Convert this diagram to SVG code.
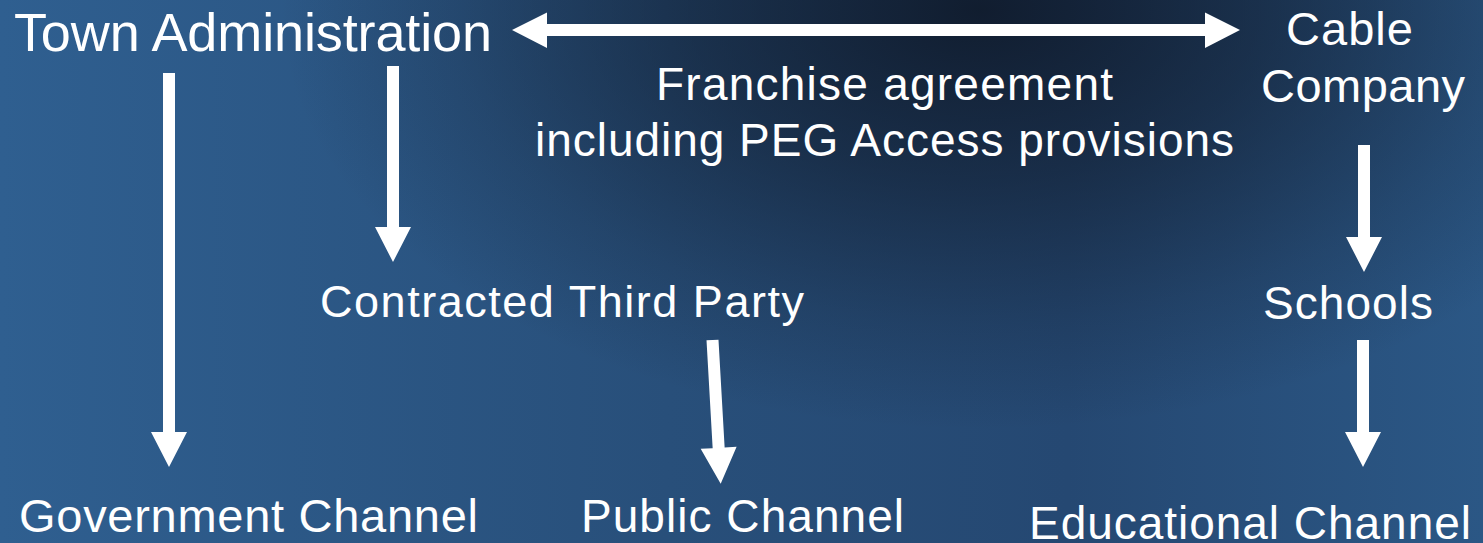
<svg xmlns="http://www.w3.org/2000/svg" width="1483" height="543" viewBox="0 0 1483 543">
  <defs>
    <linearGradient id="base" gradientUnits="userSpaceOnUse" x1="0" y1="0" x2="1483" y2="0">
      <stop offset="0" stop-color="#2f5f90"/>
      <stop offset="0.45" stop-color="#284f7a"/>
      <stop offset="0.72" stop-color="#254872"/>
      <stop offset="1" stop-color="#2b5785"/>
    </linearGradient>
    <radialGradient id="dark" gradientUnits="userSpaceOnUse" cx="980" cy="10" r="700" gradientTransform="translate(980 10) scale(1 0.6) translate(-980 -10)">
      <stop offset="0" stop-color="#0e1726" stop-opacity="0.88"/>
      <stop offset="0.4" stop-color="#0e1726" stop-opacity="0.55"/>
      <stop offset="0.75" stop-color="#0e1726" stop-opacity="0.2"/>
      <stop offset="1" stop-color="#0e1726" stop-opacity="0"/>
    </radialGradient>
    <style>
      .t { font-family: "Liberation Sans", Arial, sans-serif; fill: #ffffff; }
      .a { fill: #ffffff; stroke: none; }
    </style>
  </defs>
  <rect x="0" y="0" width="1483" height="543" fill="url(#base)"/>
  <rect x="0" y="0" width="1483" height="543" fill="url(#dark)"/>

  <g id="connectors">
    <polygon class="a" points="512,30 547,12.5 547,24 1205,24 1205,12.5 1240,30 1205,48 1205,36 547,36 547,48"/>
    <polygon class="a" points="163,73 175,73 175,432 187,432 169,467 151,432 163,432"/>
    <polygon class="a" points="387,66 399,66 399,227 411,227 393,262 375,227 387,227"/>
    <polygon class="a" transform="translate(712.5 340) rotate(-3.26)" points="-6,0 6,0 6,108 18,108 0,144 -18,108 -6,108"/>
    <polygon class="a" points="1358,145 1370,145 1370,237 1382,237 1364,272 1346,237 1358,237"/>
    <polygon class="a" points="1357,340 1369,340 1369,432 1381,432 1363,467 1345,432 1357,432"/>
  </g>

  <g id="town">
    <text class="t" x="14" y="51" font-size="54" textLength="478" lengthAdjust="spacing">Town Administration</text>
  </g>
  <g id="cable">
    <text class="t" x="1286" y="45" font-size="47" textLength="127" lengthAdjust="spacing">Cable</text>
    <text class="t" x="1261" y="102" font-size="47" textLength="204" lengthAdjust="spacing">Company</text>
  </g>
  <g id="franchise-label">
    <text class="t" x="656" y="100" font-size="46" textLength="457" lengthAdjust="spacing">Franchise agreement</text>
    <text class="t" x="535" y="156" font-size="46" textLength="699" lengthAdjust="spacing">including PEG Access provisions</text>
  </g>
  <g id="third-party">
    <text class="t" x="320" y="317" font-size="45" textLength="484" lengthAdjust="spacing">Contracted Third Party</text>
  </g>
  <g id="schools">
    <text class="t" x="1263" y="319" font-size="46" textLength="170" lengthAdjust="spacing">Schools</text>
  </g>
  <g id="government">
    <text class="t" x="19" y="532" font-size="47" textLength="459" lengthAdjust="spacing">Government Channel</text>
  </g>
  <g id="public">
    <text class="t" x="581" y="532" font-size="46" textLength="323" lengthAdjust="spacing">Public Channel</text>
  </g>
  <g id="educational">
    <text class="t" x="1029" y="539" font-size="46" textLength="442" lengthAdjust="spacing">Educational Channel</text>
  </g>
</svg>
